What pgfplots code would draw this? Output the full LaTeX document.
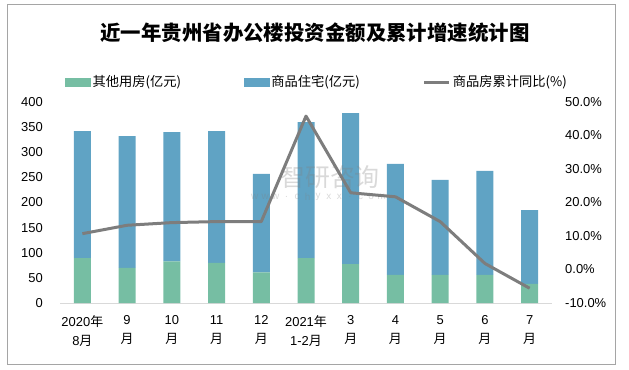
\documentclass[border=0pt]{standalone}
\usepackage{pgfplots}
\pgfplotsset{compat=1.18}
\usepackage{fontspec}
\setmainfont{Liberation Sans}
\newfontfamily\cjk{Noto Sans CJK SC}
\definecolor{cgreen}{RGB}{118,190,163}
\definecolor{cblue}{RGB}{96,163,196}
\definecolor{cline}{RGB}{125,125,125}
\definecolor{cframe}{RGB}{165,165,165}
\definecolor{caxis}{RGB}{217,217,217}
\begin{document}
\begin{tikzpicture}[x=1bp,y=1bp]
\useasboundingbox (0,0) rectangle (629,369);
\draw[cframe, line width=1bp] (7,4.5) rectangle (615,364);
\node[font=\cjk\bfseries\fontsize{20.5}{24}\selectfont] at (315,336) {近一年贵州省办公楼投资金额及累计增速统计图};

\begin{axis}[
  at={(60bp,66bp)}, anchor=south west, scale only axis,
  width=492bp, height=201bp,
  xmin=-0.5, xmax=10.5, ymin=0, ymax=400,
  ybar stacked, bar width=17bp,
  axis x line*=bottom, axis y line*=left,
  x axis line style={draw=caxis, line width=1bp, -},
  y axis line style={draw=none},
  xtick={0,...,10},
  xticklabels={{2020{\cjk 年}\\8{\cjk 月}},{9\\{\cjk 月}},{10\\{\cjk 月}},{11\\{\cjk 月}},{12\\{\cjk 月}},{2021{\cjk 年}\\1-2{\cjk 月}},{3\\{\cjk 月}},{4\\{\cjk 月}},{5\\{\cjk 月}},{6\\{\cjk 月}},{7\\{\cjk 月}}},
  xticklabel style={align=center, font=\fontsize{13}{19}\selectfont, inner sep=0pt, yshift=-12bp},
  ytick={0,50,...,400},
  yticklabel style={font=\fontsize{13}{15}\selectfont, inner sep=0pt, xshift=-17bp},
  /pgf/number format/assume math mode=true,
  xtick style={draw=none}, ytick style={draw=none},
  clip=false,
]
\addplot[fill=cgreen, draw=none] coordinates {(0,89.5) (1,70) (2,83) (3,80) (4,61) (5,89.5) (6,77.6) (7,56) (8,56) (9,56) (10,38)};
\addplot[fill=cblue, draw=none] coordinates {(0,252.5) (1,262) (2,257) (3,262) (4,196) (5,270.5) (6,300.4) (7,221) (8,189) (9,207) (10,147)};
\end{axis}

\begin{axis}[
  at={(60bp,66bp)}, anchor=south west, scale only axis,
  width=492bp, height=201bp,
  xmin=-0.5, xmax=10.5, ymin=-10, ymax=50,
  axis x line=none, axis y line*=right,
  y axis line style={draw=none},
  ytick={-10,0,...,50},
  ytick style={draw=none},
  yticklabel={\pgfmathprintnumber[fixed,fixed zerofill,precision=1]{\tick}\%},
  yticklabel style={font=\fontsize{13}{15}\selectfont, inner sep=0pt, xshift=13bp},
  /pgf/number format/assume math mode=true,
  legend columns=3,
  legend style={draw=none, fill=none, at={(0.0102,1.0995)}, anchor=west,
    inner sep=0pt, font=\cjk\fontsize{13.3}{15}\selectfont,
    /tikz/every even column/.append style={column sep=61bp}},
  clip=false,
]
\addlegendimage{legend image code/.code={\fill[cgreen] (0bp,-4bp) rectangle (25bp,4bp);}}
\addlegendentry{其他用房(亿元)}
\addlegendimage{legend image code/.code={\fill[cblue] (0bp,-4bp) rectangle (25bp,4bp);}}
\addlegendentry{商品住宅(亿元)}
\addplot[cline, line width=3bp, line join=round, mark=none,
  legend image code/.code={\draw[cline,line width=3bp] (0bp,0bp) -- (25bp,0bp);}]
  coordinates {(0,10.7) (1,13.2) (2,14.0) (3,14.3) (4,14.3) (5,45.8) (6,22.9) (7,21.7) (8,14.3) (9,1.8) (10,-5.6)};
\addlegendentry{商品房累计同比(\%)}
\end{axis}

\node[font=\cjk\fontsize{25}{25}\selectfont, text=gray, opacity=0.3] at (330,192) {智研咨询};
\foreach \c [count=\i] in {w,w,w,.,c,h,y,x,x,.,c,o,m}
  \node[font=\fontsize{10}{10}\selectfont, text=gray, opacity=0.3] at (244+\i*10.6,172) {\c};
\end{tikzpicture}
\end{document}
